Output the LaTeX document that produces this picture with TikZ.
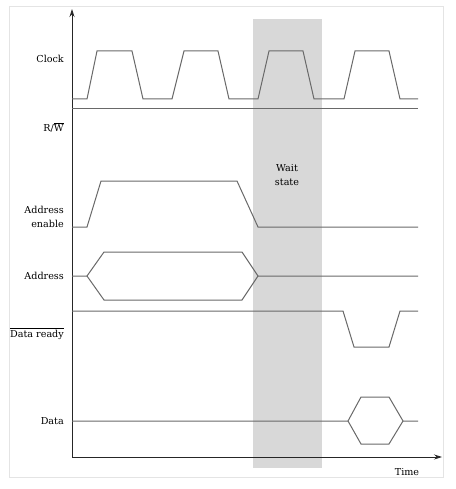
\documentclass[tikz,border=0pt]{standalone}
\usepackage{fontspec}
\setmainfont{DejaVu Serif}
\usetikzlibrary{arrows.meta}
\definecolor{wave}{RGB}{105,105,105}
\definecolor{band}{RGB}{216,216,216}
\definecolor{frame}{RGB}{228,228,228}
\newcommand{\myover}[1]{\leavevmode\vbox{\hrule height 0.6pt\kern 1.6pt\hbox{#1}}}
\tikzset{
  wavel/.style={draw=wave, line width=1pt, line join=miter},
  axisl/.style={draw=black!85, line width=0.8pt},
  lbl/.style={anchor=east, font=\fontsize{9.6}{13.5}\selectfont, align=right, inner sep=0pt},
  wlbl/.style={font=\fontsize{9.6}{13.5}\selectfont, align=center, inner sep=0pt},
}
\begin{document}
\begin{tikzpicture}[x=1pt,y=-1pt]
\useasboundingbox (0,0) rectangle (455,489);
\fill[white] (0,0) rectangle (455,489);
\draw[frame, line width=0.8pt] (9,6) rectangle (443,477);
\fill[band] (253,19) rectangle (322,468);
% axes
\coordinate (o) at (72,457);
\coordinate (ytip) at (72,9);
\coordinate (xtip) at (442,457);
\draw[axisl, -{Stealth[length=8pt,width=5pt]}] (o) -- (ytip);
\draw[axisl, -{Stealth[length=8pt,width=5pt]}] (o) -- (xtip);
\node[wlbl, anchor=base] (time) at (407,475) {Time};
% clock
\draw[wavel] (72,99) -- (87,99) -- (97,51) -- (132,51) -- (143,99) -- (172,99) -- (184,51) -- (218,51) -- (229,99) -- (258,99) -- (269,51) -- (303,51) -- (314,99) -- (344,99) -- (355,51) -- (389,51) -- (400,99) -- (418,99);
\node[lbl] (clk) at (64,59) {Clock};
% R/W
\draw[wavel] (72,109) -- (418,109);
\node[lbl, anchor=base east] (rw) at (64,132) {R/\myover{W}};
% Address enable
\draw[wavel] (72,227) -- (87,227) -- (101,181) -- (237,181) -- (258,227) -- (418,227);
\node[lbl] (ae) at (64,217) {Address\\enable};
% Address
\draw[wavel] (72,276) -- (87,276) -- (104,252) -- (242,252) -- (258,276) -- (418,276);
\draw[wavel] (87,276) -- (104,300) -- (242,300) -- (258,276);
\node[lbl] (addr) at (64,276) {Address};
% Data ready
\draw[wavel] (72,311) -- (343,311) -- (354,347) -- (389,347) -- (400,311) -- (418,311);
\node[lbl, anchor=base east] (dr) at (64,337) {\myover{Data ready}};
% Data
\draw[wavel] (72,421) -- (348,421) -- (361,397) -- (389,397) -- (403,421) -- (418,421);
\draw[wavel] (348,421) -- (361,444) -- (389,444) -- (403,421);
\node[lbl] (data) at (64,421) {Data};
% wait state
\node[wlbl] (ws) at (287,175) {Wait\\state};
\end{tikzpicture}
\end{document}
